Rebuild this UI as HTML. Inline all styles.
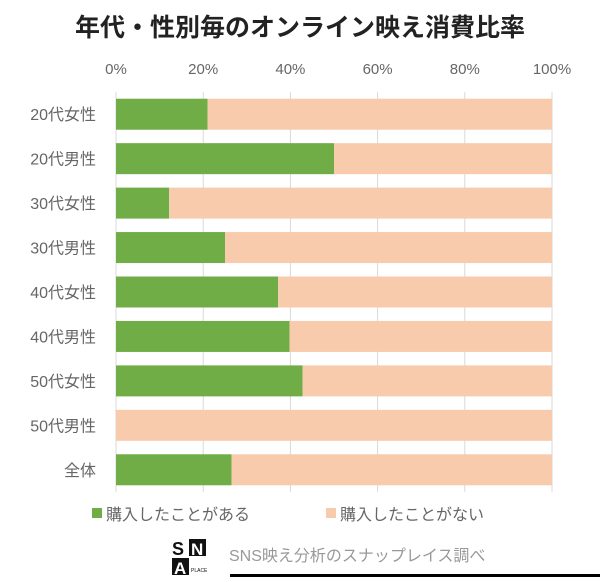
<!DOCTYPE html>
<html><head><meta charset="utf-8"><style>
body{margin:0;background:#fff;}
svg text{font-family:"Liberation Sans","Noto Sans CJK JP",sans-serif;}
</style></head><body>
<svg width="600" height="577" viewBox="0 0 600 577">
<rect x="0" y="0" width="600" height="577" fill="#fff"/>
<text x="300" y="36" text-anchor="middle" font-size="25" font-weight="bold" fill="#222">年代・性別毎のオンライン映え消費比率</text>
<g id="grid"></g>
<g id="bars"></g>
<g id="ylabels"></g>
<g>
<rect x="92" y="508" width="10" height="10" fill="#70ad47"/>
<text x="106" y="520" font-size="16" fill="#666">購入したことがある</text>
<rect x="326" y="508" width="10" height="10" fill="#f8cbad"/>
<text x="340" y="520" font-size="16" fill="#666">購入したことがない</text>
</g>
<g>
<text x="172" y="555" font-size="18" font-weight="bold" fill="#111">S</text>
<rect x="189" y="539" width="17" height="17" fill="#111"/>
<text x="191" y="555" font-size="17" font-weight="bold" fill="#fff">N</text>
<rect x="172" y="558" width="17" height="17" fill="#111"/>
<text x="174" y="574" font-size="17" font-weight="bold" fill="#fff">A</text>
<text x="191" y="572" font-size="5" fill="#111">PLACE</text>
</g>
<text x="229" y="561" font-size="16" fill="#999">SNS映え分析のスナップレイス調べ</text>
<rect x="230" y="574" width="370" height="3" fill="#000"/>
</svg>
<script>
const categories=["20代女性","20代男性","30代女性","30代男性","40代女性","40代男性","50代女性","50代男性","全体"];
const boughtValues=[21,50,12.2,25,37.2,39.8,42.8,0,26.5];
const tickLabels=["0%","20%","40%","60%","80%","100%"];
const tickValues=[0,20,40,60,80,100];
const NS="http://www.w3.org/2000/svg";
const x0=116,x1=552,yTop=92,yBot=492;
const xs=v=>x0+(x1-x0)*v/100;
const band=(yBot-yTop)/categories.length;
const yc=i=>yTop+band*(i+0.5);
function mk(t,a,p){const e=document.createElementNS(NS,t);for(const k in a)e.setAttribute(k,a[k]);p.appendChild(e);return e;}
const grid=document.getElementById('grid'),bars=document.getElementById('bars'),yl=document.getElementById('ylabels');
tickValues.forEach((v,i)=>{
 const l=mk('line',{x1:xs(v),x2:xs(v),y1:yTop,y2:yBot,stroke:'#d9d9d9','stroke-width':1},grid);
 
 
 const t=mk('text',{x:xs(v),y:74,'text-anchor':'middle','font-size':15,fill:'#666'},grid);
 t.textContent=tickLabels[i];
 
 
});
categories.forEach((c,i)=>{
 const h=31,y=yc(i)-h/2,v=boughtValues[i];
 const r1=mk('rect',{x:xs(0),y:y,width:xs(v)-xs(0),height:h,fill:'#70ad47'},bars);
 
 
 const r2=mk('rect',{x:xs(v),y:y,width:xs(100)-xs(v),height:h,fill:'#f8cbad'},bars);
 
 
 const t=mk('text',{x:96,y:yc(i)+6,'text-anchor':'end','font-size':16,fill:'#666'},yl);
 t.textContent=c;
 
 
});
</script>
</body></html>
